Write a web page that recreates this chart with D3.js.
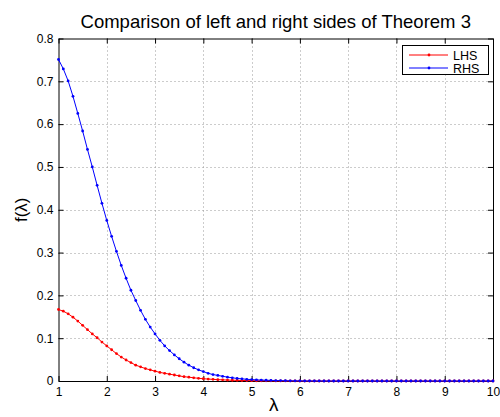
<!DOCTYPE html>
<html>
<head>
<meta charset="utf-8">
<script src="https://cdn.jsdelivr.net/npm/d3@7"></script>
<style>
	body { margin: 0; background: #fff; }
	svg text { font-family: "Liberation Sans", Arial, Helvetica, sans-serif; fill: #000; }
</style>
</head>
<body>
<svg id="chart-1" width="500" height="417"></svg>
<script>
// Data (step 0.1 in lambda, 1 .. 10).
const lambdaStart = 1;
const lambdaStep = 0.1;

const lhs = [
	0.167, 0.163, 0.157, 0.149, 0.140, 0.130, 0.120, 0.110, 0.101, 0.091,
	0.082, 0.073, 0.064, 0.056, 0.049, 0.043, 0.037, 0.033, 0.029, 0.026,
	0.023, 0.020, 0.018, 0.016, 0.014, 0.012, 0.010, 0.009, 0.0075, 0.0063,
	0.0053, 0.0045, 0.0038, 0.0032, 0.0027, 0.0022, 0.0018, 0.0015, 0.0012, 0.0010,
	0.0008, 0.0006, 0.0005, 0.0004, 0.0003, 0.0002, 0.0002, 0.0001, 0.0001, 0.0001,
	0, 0, 0, 0, 0, 0, 0, 0, 0, 0,
	0, 0, 0, 0, 0, 0, 0, 0, 0, 0,
	0, 0, 0, 0, 0, 0, 0, 0, 0, 0,
	0, 0, 0, 0, 0, 0, 0, 0, 0, 0,
	0
];

const rhs = [
	0.751, 0.729, 0.701, 0.665, 0.625, 0.584, 0.541, 0.500, 0.457, 0.415,
	0.375, 0.338, 0.303, 0.270, 0.240, 0.212, 0.188, 0.165, 0.144, 0.126,
	0.110, 0.095, 0.082, 0.071, 0.061, 0.052, 0.044, 0.037, 0.031, 0.026,
	0.022, 0.018, 0.015, 0.013, 0.011, 0.009, 0.0075, 0.006, 0.005, 0.004,
	0.0033, 0.0027, 0.0022, 0.0018, 0.0014, 0.0011, 0.0009, 0.0007, 0.0005, 0.0004,
	0.0003, 0.0002, 0.0002, 0.0001, 0.0001, 0, 0, 0, 0, 0,
	0, 0, 0, 0, 0, 0, 0, 0, 0, 0,
	0, 0, 0, 0, 0, 0, 0, 0, 0, 0,
	0, 0, 0, 0, 0, 0, 0, 0, 0, 0,
	0
];

const xTicks = [1, 2, 3, 4, 5, 6, 7, 8, 9, 10];
const yTicks = [0, 0.1, 0.2, 0.3, 0.4, 0.5, 0.6, 0.7, 0.8];
const seriesNames = ['LHS', 'RHS'];
const seriesColors = ['#ff0000', '#0000ff'];

const titleText = 'Comparison of left and right sides of Theorem 3';
const xLabelText = 'λ';
const yLabelText = 'f(λ)';

// Plot box (pixels)
const margin = {left: 58.5, right: 7, top: 38.5, bottom: 36};
const width = 500;
const height = 417;

const svg = d3.select('svg#chart-1');

const x = d3.scaleLinear()
	.domain([1, 10])
	.range([margin.left, width - margin.right]);
const y = d3.scaleLinear()
	.domain([0, 0.8])
	.range([height - margin.bottom, margin.top]);

const fmt = d3.format('~g');
const tick = 5;

// Grid: dotted lines, skipping the ones on the box edges
const grid = svg.append('g').attr('class', 'grid')
	.attr('stroke', '#999')
	.attr('stroke-width', 1)
	.attr('stroke-dasharray', '1,3');
grid.selectAll('line.gx')
	.data(xTicks.slice(1, -1))
	.enter().append('line')
		.attr('class', 'gx')
		.attr('x1', d => Math.round(x(d)) + 0.5)
		.attr('x2', d => Math.round(x(d)) + 0.5)
		.attr('y1', y(0.8))
		.attr('y2', y(0));
grid.selectAll('line.gy')
	.data(yTicks.slice(1, -1))
	.enter().append('line')
		.attr('class', 'gy')
		.attr('x1', x(1))
		.attr('x2', x(10))
		.attr('y1', d => Math.round(y(d)) + 0.5)
		.attr('y2', d => Math.round(y(d)) + 0.5);

// Axes: ticks point inward, mirrored on top / right
const styleAxis = g => {
	g.selectAll('path.domain').attr('stroke', '#000');
	g.selectAll('.tick line').attr('stroke', '#000');
	g.selectAll('.tick text')
		.attr('font-size', '12px')
		.attr('fill', '#000');
};

svg.append('g')
	.attr('transform', `translate(0,${y(0)})`)
	.call(d3.axisBottom(x).tickValues(xTicks).tickFormat(fmt)
		.tickSizeInner(-tick).tickSizeOuter(0).tickPadding(6))
	.call(styleAxis);
svg.append('g')
	.attr('transform', `translate(0,${y(0.8)})`)
	.call(d3.axisTop(x).tickValues(xTicks).tickFormat('')
		.tickSizeInner(-tick).tickSizeOuter(0))
	.call(styleAxis);
svg.append('g')
	.attr('transform', `translate(${x(1)},0)`)
	.call(d3.axisLeft(y).tickValues(yTicks).tickFormat(fmt)
		.tickSizeInner(-tick).tickSizeOuter(0).tickPadding(5))
	.call(styleAxis);
svg.append('g')
	.attr('transform', `translate(${x(10)},0)`)
	.call(d3.axisRight(y).tickValues(yTicks).tickFormat('')
		.tickSizeInner(-tick).tickSizeOuter(0))
	.call(styleAxis);

// Series: line + small dot marker at each sample
const series = [lhs, rhs].map((vals, i) => ({
	name: seriesNames[i],
	color: seriesColors[i],
	points: vals.map((v, j) => ({l: lambdaStart + j * lambdaStep, v: v}))
}));

const line = d3.line()
	.x(d => x(d.l))
	.y(d => y(d.v));

const sg = svg.selectAll('g.series')
	.data(series)
	.enter().append('g')
		.attr('class', 'series');
sg.append('path')
	.attr('d', d => line(d.points))
	.attr('fill', 'none')
	.attr('stroke', d => d.color)
	.attr('stroke-width', 1);
sg.each(function(s) {
	d3.select(this).selectAll('circle')
		.data(s.points)
		.enter().append('circle')
			.attr('cx', d => x(d.l))
			.attr('cy', d => y(d.v))
			.attr('r', 1.4)
			.attr('fill', s.color);
});

// Legend box (top right)
const legend = svg.append('g').attr('transform', 'translate(402,45)');
legend.append('rect')
	.attr('x', 0.5)
	.attr('y', 0.5)
	.attr('width', 86)
	.attr('height', 29)
	.attr('fill', '#fff')
	.attr('stroke', '#000');
const items = legend.selectAll('g.item')
	.data(series)
	.enter().append('g')
		.attr('class', 'item')
		.attr('transform', (d, i) => `translate(0,${10 + i * 13})`);
items.append('line')
	.attr('x1', 7)
	.attr('x2', 46)
	.attr('stroke', d => d.color);
items.append('circle')
	.attr('cx', 27)
	.attr('r', 1.4)
	.attr('fill', d => d.color);
items.append('text')
	.attr('x', 51)
	.attr('dy', '0.36em')
	.attr('font-size', '12.5px')
	.text(d => d.name);

// Title and labels
svg.append('text')
	.attr('x', (x(1) + x(10)) / 2)
	.attr('y', 28)
	.attr('text-anchor', 'middle')
	.attr('font-size', '18.5px')
	.text(titleText);
svg.append('text')
	.attr('x', (x(1) + x(10)) / 2 - 2)
	.attr('y', 411)
	.attr('text-anchor', 'middle')
	.attr('font-size', '19px')
	.text(xLabelText);
svg.append('text')
	.attr('transform', `translate(27,${(y(0) + y(0.8)) / 2}) rotate(-90)`)
	.attr('text-anchor', 'middle')
	.attr('font-size', '17px')
	.text(yLabelText);
</script>
</body>
</html>
